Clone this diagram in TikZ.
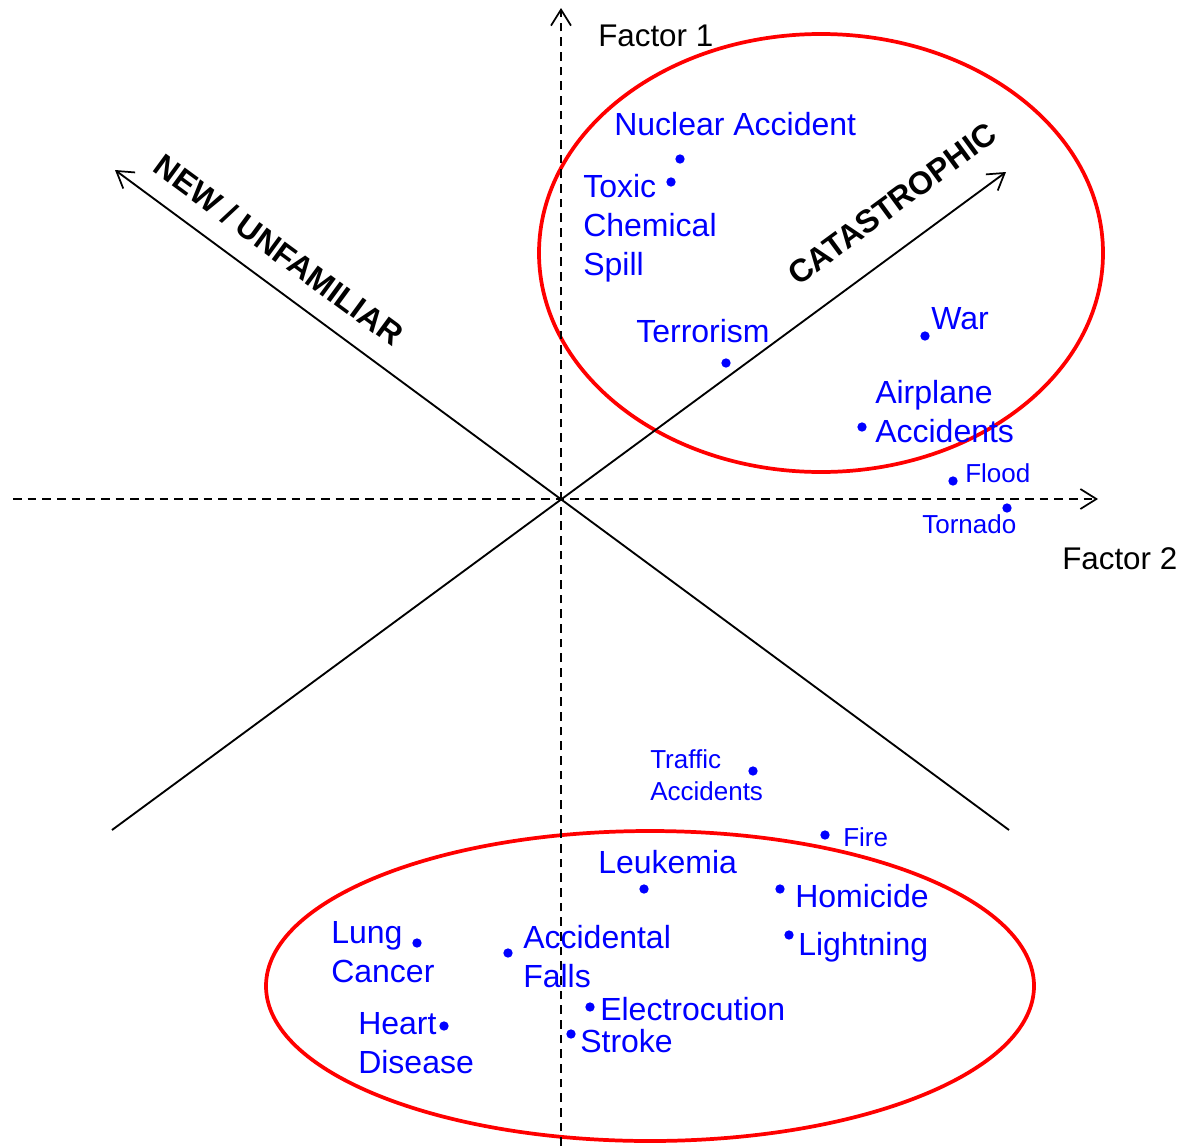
\documentclass[tikz,border=0pt]{standalone}
\usepackage{fontspec}
\setmainfont{Liberation Sans}
\usepackage{tikz}
\usetikzlibrary{arrows.meta}

\tikzset{
  axis/.style={line width=1.5pt, dash pattern=on 6.5pt off 4.5pt,
    -{Straight Barb[length=12pt,width=15pt,line width=1.3pt]}},
  trend/.style={line width=1.4pt,
    -{Straight Barb[length=12pt,width=15pt,line width=1.3pt]}},
  ring/.style={draw=red, line width=2.8pt},
  hazdot/.style={circle, fill=blue, inner sep=0pt, minimum size=7pt},
  hazbig/.style={text=blue, anchor=base west, inner sep=0pt, align=left,
    font=\fontsize{24}{28.9}\selectfont},
  hazsmall/.style={hazbig, font=\fontsize{19.5}{24}\selectfont},
  factorlabel/.style={anchor=base west, inner sep=0pt, font=\fontsize{23.5}{28}\selectfont},
  trendlabel/.style={inner sep=0pt, font=\bfseries\fontsize{24}{28}\selectfont},
}

\begin{document}
\begin{tikzpicture}[x=0.75pt,y=0.75pt,yscale=-1,xscale=1]
\useasboundingbox (0,0) rectangle (1185,1146);

% axis ends
\coordinate (O) at (561,499);
\coordinate (f1low) at (561,1146);
\coordinate (f1top) at (561,8);
\coordinate (f2left) at (13,499);
\coordinate (f2right) at (1098,499);
\coordinate (catlow) at (112,830);
\coordinate (cattop) at (1006,172);
\coordinate (newlow) at (1009,830);
\coordinate (newtop) at (115,170);

%Shape: Ellipse
\draw [ring] (821,253) ellipse [x radius=282, y radius=219];
%Shape: Ellipse
\draw [ring] (650,986) ellipse [x radius=384, y radius=155];

%Straight Lines
\draw [axis] (f1low) -- (f1top);
%Straight Lines
\draw [axis] (f2left) -- (f2right);
%Straight Lines
\draw [trend] (catlow) -- (cattop);
%Straight Lines
\draw [trend] (newlow) -- (newtop);

% Text Node
\node (factor1) at (598,46) [factorlabel] {Factor 1};
% Text Node
\node (factor2) at (1062,569) [factorlabel] {Factor 2};
% Text Node
\node (newunf) at (279,250) [trendlabel, rotate=-36.3] {NEW / UNFAMILIAR};
% Text Node
\node (catastr) at (892,204) [trendlabel, rotate=36.3] {CATASTROPHIC};

% hazards, upper group
\node (dnuclear) at (680,159) [hazdot] {};
\node (tnuclear) at (614,135) [hazbig] {Nuclear Accident};
\node (dtoxic) at (671,182) [hazdot] {};
\node (ttoxic) at (583,275) [hazbig] {Toxic\\Chemical\\Spill};
\node (dterror) at (726,363) [hazdot] {};
\node (tterror) at (636,342) [hazbig] {Terrorism};
\node (dwar) at (925,336) [hazdot] {};
\node (twar) at (931,329) [hazbig] {War};
\node (dplane) at (862,427) [hazdot] {};
\node (tplane) at (875,442) [hazbig] {Airplane\\Accidents};
\node (dflood) at (953,481) [hazdot] {};
\node (tflood) at (965,482) [hazsmall] {Flood};
\node (dtornado) at (1007,508) [hazdot] {};
\node (ttornado) at (922,533) [hazsmall] {Tornado};

% hazards, lower group
\node (dtraffic) at (753,771) [hazdot] {};
\node (ttraffic) at (650,800) [hazsmall] {Traffic\\Accidents};
\node (dfire) at (825,835) [hazdot] {};
\node (tfire) at (843,846) [hazsmall] {Fire};
\node (dleuk) at (644,889) [hazdot] {};
\node (tleuk) at (598,873) [hazbig] {Leukemia};
\node (dhomic) at (780,889) [hazdot] {};
\node (thomic) at (795,907) [hazbig] {Homicide};
\node (dlight) at (789,935) [hazdot] {};
\node (tlight) at (798,955) [hazbig] {Lightning};
\node (dlung) at (417,943) [hazdot] {};
\node (tlung) at (331,982) [hazbig] {Lung\\Cancer};
\node (dfalls) at (508,953) [hazdot] {};
\node (tfalls) at (523,987) [hazbig] {Accidental\\Falls};
\node (delec) at (590,1007) [hazdot] {};
\node (telec) at (600,1020) [hazbig] {Electrocution};
\node (dstroke) at (571,1034) [hazdot] {};
\node (tstroke) at (580,1052) [hazbig] {Stroke};
\node (dheart) at (444,1026) [hazdot] {};
\node (theart) at (358,1073) [hazbig] {Heart\\Disease};

\end{tikzpicture}
\end{document}
